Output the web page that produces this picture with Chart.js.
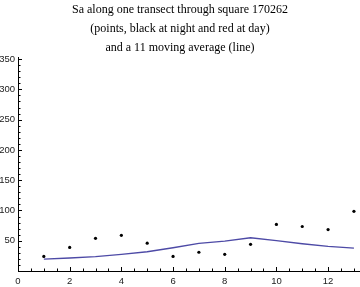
<!DOCTYPE html>
<html>
<head>
<meta charset="utf-8">
<script src="https://cdn.jsdelivr.net/npm/chart.js@4/dist/chart.umd.min.js"></script>
<style>
html,body{margin:0;padding:0;background:#fff;}
#wrap{width:360px;height:287px;}
</style>
</head>
<body>
<div id="wrap"><canvas id="c" width="360" height="287"></canvas></div>
<script>
const titleLines = ["Sa along one transect through square 170262", "(points, black at night and red at day)", "and a 11 moving average (line)"];
const positions = [1, 2, 3, 4, 5, 6, 7, 8, 9, 10, 11, 12, 13];
const saValues = [24, 39, 54, 59, 46, 24, 31, 27.5, 44, 77, 73.5, 68.5, 98.5];
const movingAvg = [19.5, 21.5, 23.8, 27.5, 31.8, 38.4, 45.6, 49.4, 54.9, 50, 45, 40.7, 37.9];
const xTickLabels = [0, 2, 4, 6, 8, 10, 12];
const yTickLabels = [50, 100, 150, 200, 250, 300, 350];

const pointData = positions.map((x, i) => ({x: x, y: saValues[i]}));
const lineData = positions.map((x, i) => ({x: x, y: movingAvg[i]}));

const tickFont = {family: "Liberation Sans", size: 9.5};

const insideTicks = {
  id: 'insideTicks',
  afterDraw(chart) {
    const ctx = chart.ctx;
    const xs = chart.scales.x, ys = chart.scales.y;
    const x0 = xs.getPixelForValue(0), y0 = ys.getPixelForValue(0);
    ctx.save();
    ctx.strokeStyle = '#000';
    ctx.lineWidth = 1;
    ctx.beginPath();
    // extend horizontal axis to the right edge, as in the reference
    ctx.moveTo(xs.right, Math.round(y0) + 0.5); ctx.lineTo(chart.width, Math.round(y0) + 0.5);
    for (let v = 0; v <= ys.max + 0.001; v += 10) {
      const py = Math.round(ys.getPixelForValue(v)) + 0.5;
      const len = (v % 50 === 0) ? 4 : 2.5;
      ctx.moveTo(x0, py); ctx.lineTo(x0 + len, py);
    }
    for (let v = 0; v <= xs.max + 0.001; v += 0.5) {
      const px = Math.round(xs.getPixelForValue(v)) + 0.5;
      const len = (Math.abs(v % 2) < 1e-9) ? 4 : 2.5;
      ctx.moveTo(px, y0); ctx.lineTo(px, y0 - len);
    }
    ctx.stroke();
    ctx.restore();
  }
};

new Chart(document.getElementById('c'), {
  type: 'scatter',
  data: {
    datasets: [
      {
        type: 'line',
        data: lineData,
        borderColor: '#4d4aa6',
        borderWidth: 1.3,
        pointRadius: 0,
        tension: 0,
        fill: false
      },
      {
        data: pointData,
        backgroundColor: '#000',
        borderColor: '#000',
        pointRadius: 1.6,
        borderWidth: 0
      }
    ]
  },
  plugins: [insideTicks],
  options: {
    responsive: false,
    animation: false,
    layout: {padding: {left: 0, right: 0, top: 0, bottom: 0}},
    plugins: {
      legend: {display: false},
      tooltip: {enabled: false},
      title: {
        display: true,
        text: titleLines,
        color: '#000',
        font: {family: "Liberation Serif", size: 12, weight: 'normal', lineHeight: 1.58},
        padding: {top: 0, bottom: 1}
      }
    },
    scales: {
      x: {
        type: 'linear',
        min: 0,
        max: 13.08,
        afterBuildTicks(s) { s.ticks = xTickLabels.map(v => ({value: v})); },
        afterFit(s) { s.height = 16; },
        grid: {display: false, drawTicks: false},
        border: {display: true, color: '#000', width: 1},
        ticks: {
          autoSkip: false,
          color: '#222',
          font: tickFont,
          padding: 5,
          maxRotation: 0,
          callback: (v) => String(v)
        }
      },
      y: {
        type: 'linear',
        min: 0,
        max: 352,
        afterBuildTicks(s) { s.ticks = yTickLabels.map(v => ({value: v})); },
        afterFit(s) { s.width = 18; },
        grid: {display: false, drawTicks: false},
        border: {display: true, color: '#000', width: 1},
        ticks: {
          autoSkip: false,
          color: '#222',
          font: tickFont,
          padding: 3,
          callback: (v) => String(v)
        }
      }
    }
  }
});
</script>
</body>
</html>
